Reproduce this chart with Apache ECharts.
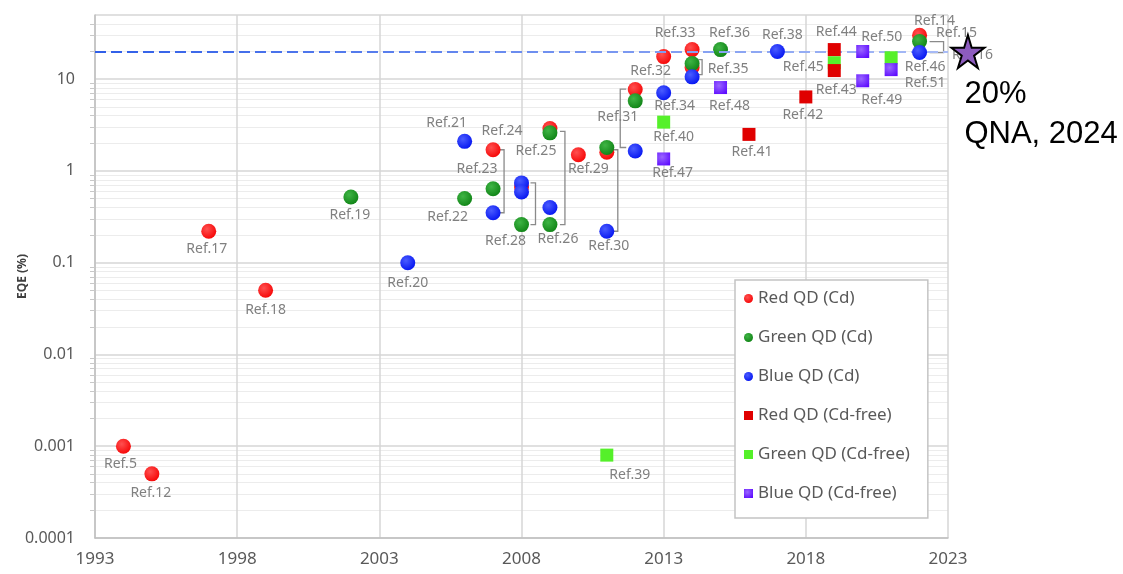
<!DOCTYPE html>
<html lang="en">
  <head>
    <meta charset="UTF-8" />
    <title>QD-LED EQE</title>
    <script src="https://cdn.jsdelivr.net/npm/echarts@6/dist/echarts.min.js"></script>
  </head>
  <body style="margin: 0">
    <div id="main" style="width: 1123px; height: 574px"></div>
    <script type="text/javascript">
      // years are plotted as offsets from the first axis year
      const baseYear = 1993;

      const redCdYears = [1994, 1995, 1997, 1999, 2007, 2008, 2009, 2010, 2011, 2012, 2013, 2014, 2014, 2022];
      const redCdEqe = [0.001, 0.0005, 0.22, 0.05, 1.7, 0.67, 2.9, 1.5, 1.6, 7.7, 17.6, 21, 13.4, 30];
      const redCdRefs = ["Ref.5", "Ref.12", "Ref.17", "Ref.18", "Ref.24", "", "", "Ref.29", "", "", "Ref.32", "Ref.33", "", "Ref.14"];

      const greenCdYears = [2002, 2006, 2007, 2008, 2009, 2009, 2011, 2012, 2014, 2015, 2022];
      const greenCdEqe = [0.52, 0.5, 0.64, 0.26, 2.6, 0.26, 1.8, 5.8, 14.8, 21, 25.7];
      const greenCdRefs = ["Ref.19", "Ref.22", "Ref.23", "Ref.28", "Ref.25", "Ref.26", "Ref.31", "", "Ref.35", "Ref.36", "Ref.15"];

      const blueCdYears = [2004, 2006, 2007, 2008, 2008, 2009, 2011, 2012, 2013, 2014, 2017, 2022];
      const blueCdEqe = [0.1, 2.1, 0.35, 0.74, 0.59, 0.4, 0.22, 1.65, 7.1, 10.6, 20, 19.5];
      const blueCdRefs = ["Ref.20", "Ref.21", "", "", "", "", "Ref.30", "", "Ref.34", "", "Ref.38", "Ref.16"];

      const redFreeYears = [2016, 2018, 2019, 2019];
      const redFreeEqe = [2.5, 6.4, 21, 12.4];
      const redFreeRefs = ["Ref.41", "Ref.42", "Ref.44", "Ref.43"];

      const greenFreeYears = [2011, 2013, 2019, 2021];
      const greenFreeEqe = [0.0008, 3.4, 15.1, 17.1];
      const greenFreeRefs = ["Ref.39", "Ref.40", "Ref.45", "Ref.46"];

      const blueFreeYears = [2013, 2015, 2020, 2020, 2021];
      const blueFreeEqe = [1.35, 8.1, 20, 9.6, 12.7];
      const blueFreeRefs = ["Ref.47", "Ref.48", "Ref.50", "Ref.49", "Ref.51"];

      // this work
      const qnaYear = 2023.7;
      const qnaEqe = 20;
      const targetEqe = 20;

      // groups joined by a bracket: [year, low, high]
      const bracketGroups = [
        [2007, 0.35, 1.7],
        [2008, 0.26, 0.74],
        [2009, 0.26, 2.7],
        [2011, 0.22, 1.7],
        [2012, 1.8, 7.8],
        [2014, 11.2, 16.3],
        [2022, 19.5, 25.7],
      ];

      // bracket pixel placement (offset from the points, arm length)
      const bracketStyle = [
        [11, -5], [14, -5], [15, -5], [11, -5], [-15, 6], [10, -4], [24, -14],
      ];

      // label offsets in px from the marker centre
      const labelOffsets = {
        "Ref.5": [-3, 18], "Ref.12": [-1, 19], "Ref.17": [-2, 18], "Ref.18": [0, 20],
        "Ref.19": [-1, 18], "Ref.20": [0, 20], "Ref.21": [-18, -18], "Ref.22": [-17, 18],
        "Ref.23": [-16, -20], "Ref.24": [9, -19], "Ref.25": [-14, 18], "Ref.26": [8, 14],
        "Ref.28": [-16, 16], "Ref.29": [10, 14], "Ref.30": [2, 15], "Ref.31": [11, -30],
        "Ref.32": [-13, 14], "Ref.33": [-17, -17], "Ref.34": [11, 13], "Ref.35": [36, 5],
        "Ref.36": [9, -17], "Ref.38": [5, -17], "Ref.39": [23, 20], "Ref.40": [10, 15],
        "Ref.41": [3, 18], "Ref.42": [-3, 18], "Ref.43": [2, 19], "Ref.44": [2, -18],
        "Ref.45": [-31, 4], "Ref.46": [34, 9], "Ref.47": [9, 14], "Ref.48": [9, 18],
        "Ref.49": [19, 19], "Ref.50": [19, -15], "Ref.51": [34, 13], "Ref.14": [15, -14],
        "Ref.15": [37, -9], "Ref.16": [53, 2],
      };

      const font = "Noto Sans";

      function ball(base, light) {
        return {
          type: "radial", x: 0.38, y: 0.35, r: 0.75,
          colorStops: [{ offset: 0, color: light }, { offset: 1, color: base }],
        };
      }

      function points(years, eqe, refs) {
        return years.map((y, i) => {
          const ref = refs[i];
          return {
            value: [y - baseYear, eqe[i]],
            label: ref
              ? { show: true, formatter: ref, position: "inside", offset: labelOffsets[ref] || [0, 18] }
              : { show: false },
          };
        });
      }

      function qdSeries(name, years, eqe, refs, symbol, color, z) {
        return {
          name: name,
          type: "scatter",
          symbol: symbol,
          symbolSize: symbol === "circle" ? 15 : 13,
          z: z,
          itemStyle: { color: color, opacity: 1 },
          label: { color: "#808080", fontSize: 14, fontFamily: font },
          data: points(years, eqe, refs),
        };
      }

      const star = "path://M50,0 L61,35 L98,35 L68,57 L79,91 L50,70 L21,91 L32,57 L2,35 L39,35 Z";

      let myChart = echarts.init(document.getElementById("main"));

      let options = {
        animation: false,
        grid: { left: 95, right: 175, top: 15, bottom: 36 },
        legend: {
          orient: "vertical",
          left: 735,
          top: 280,
          padding: [10, 18, 16, 9],
          itemGap: 22,
          itemWidth: 9,
          itemHeight: 9,
          borderColor: "#c4c4c4",
          borderWidth: 1.5,
          backgroundColor: "#fff",
          textStyle: { color: "#595959", fontSize: 17, fontFamily: font },
          data: ["Red QD (Cd)", "Green QD (Cd)", "Blue QD (Cd)", "Red QD (Cd-free)", "Green QD (Cd-free)", "Blue QD (Cd-free)"],
        },
        xAxis: {
          type: "value",
          min: 0,
          max: 30,
          interval: 5,
          axisLine: { lineStyle: { color: "#bfbfbf", width: 1.5 } },
          axisTick: { show: false },
          axisLabel: {
            color: "#595959",
            fontSize: 17,
            fontFamily: font,
            margin: 13,
            formatter: (v) => String(v + baseYear),
          },
          splitLine: { show: true, lineStyle: { color: "#d6d6d6", width: 1.5 } },
        },
        yAxis: {
          type: "log",
          logBase: 10,
          min: 0.0001,
          max: 50,
          name: "EQE (%)",
          nameLocation: "middle",
          nameGap: 66,
          nameMoveOverlap: false,
          nameTextStyle: { color: "#404040", fontSize: 12, fontWeight: "bold", fontFamily: font },
          axisLine: { show: true, lineStyle: { color: "#bfbfbf", width: 1.5 } },
          axisTick: { show: false },
          minorTick: { show: true, splitNumber: 9, length: 5, lineStyle: { color: "#c8c8c8" } },
          minorSplitLine: { show: true, lineStyle: { color: "#ececec" } },
          axisLabel: {
            color: "#595959",
            fontSize: 16,
            fontFamily: font,
            margin: 20,
            formatter: (v) => {
              const l = Math.log10(v);
              return Math.abs(l - Math.round(l)) < 1e-6 ? String(v) : "";
            },
          },
          splitLine: { show: true, lineStyle: { color: "#d6d6d6", width: 1.5 } },
        },
        series: [
          {
            name: "brackets",
            type: "custom",
            silent: true,
            z: 1,
            encode: { x: 0, y: [1, 2] },
            data: bracketGroups.map((b) => [b[0] - baseYear, b[1], b[2]]),
            renderItem: (params, api) => {
              const top = api.coord([api.value(0), api.value(2)]);
              const bottom = api.coord([api.value(0), api.value(1)]);
              const s = bracketStyle[params.dataIndex];
              const x = top[0] + s[0];
              return {
                type: "polyline",
                shape: { points: [[x + s[1], top[1]], [x, top[1]], [x, bottom[1]], [x + s[1], bottom[1]]] },
                style: { stroke: "#8a8a8a", fill: null, lineWidth: 1.3 },
              };
            },
            markLine: {
              silent: true,
              symbol: ["none", "none"],
              label: { show: false },
              lineStyle: {
                type: [11, 5],
                width: 2,
                color: {
                  type: "linear", x: 0, y: 0, x2: 1, y2: 0,
                  colorStops: [{ offset: 0, color: "#2f5ee8" }, { offset: 1, color: "#a9bcf6" }],
                },
              },
              data: [{ yAxis: targetEqe }],
            },
          },
          qdSeries("Red QD (Cd)", redCdYears, redCdEqe, redCdRefs, "circle", ball("#f50000", "#ff5050"), 3),
          qdSeries("Green QD (Cd)", greenCdYears, greenCdEqe, greenCdRefs, "circle", ball("#0c8012", "#3fb545"), 4),
          qdSeries("Blue QD (Cd)", blueCdYears, blueCdEqe, blueCdRefs, "circle", ball("#0010f0", "#4a5cff"), 5),
          qdSeries("Red QD (Cd-free)", redFreeYears, redFreeEqe, redFreeRefs, "rect", "#e00000", 7),
          qdSeries("Green QD (Cd-free)", greenFreeYears, greenFreeEqe, greenFreeRefs, "rect", "#55f02a", 6),
          qdSeries("Blue QD (Cd-free)", blueFreeYears, blueFreeEqe, blueFreeRefs, "rect", ball("#5e0cff", "#9a66ff"), 8),
          {
            name: "QNA",
            type: "scatter",
            clip: false,
            z: 10,
            symbol: star,
            symbolSize: 33,
            itemStyle: { color: "#8d5cbf", borderColor: "#000", borderWidth: 2, opacity: 1 },
            label: {
              show: true,
              formatter: "20%\nQNA, 2024",
              position: [14, 40],
              align: "left",
              verticalAlign: "top",
              color: "#000",
              fontSize: 31,
              lineHeight: 40,
              fontFamily: "Liberation Sans",
            },
            data: [[qnaYear - baseYear, qnaEqe]],
          },
        ],
      };

      myChart.setOption(options);
    </script>
  </body>
</html>
